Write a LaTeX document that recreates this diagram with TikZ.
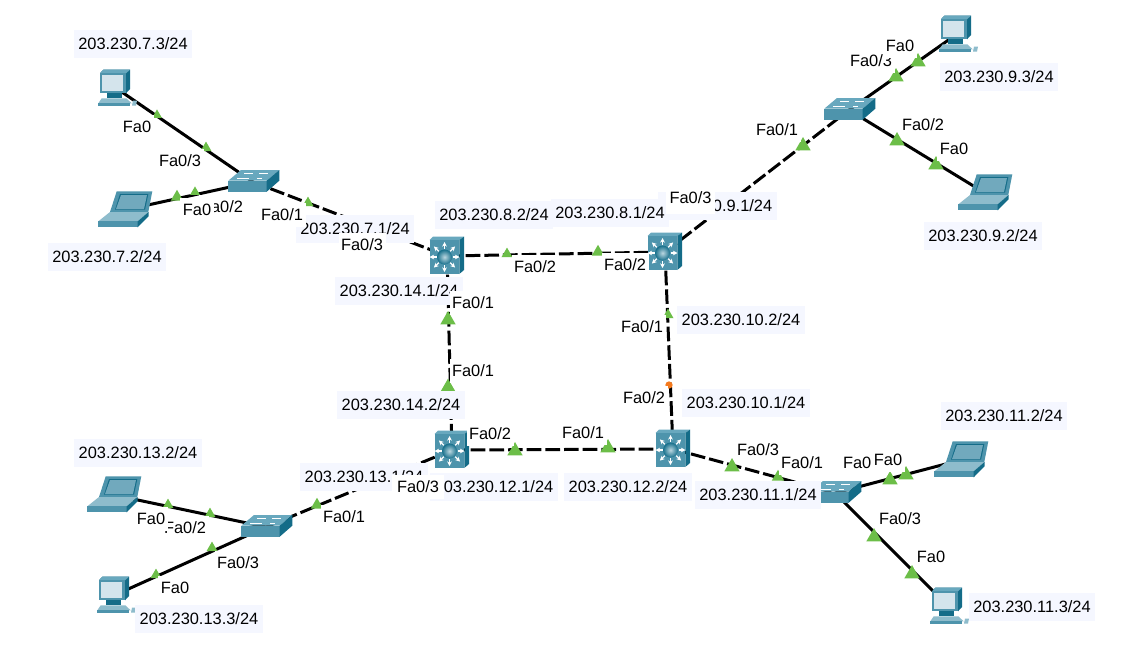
\documentclass[tikz,border=0pt]{standalone}
\usepackage{fontspec}
\setmainfont{Liberation Sans}
\usetikzlibrary{arrows.meta,shapes.geometric}
\definecolor{iconfront}{RGB}{78,148,172}
\definecolor{icontop}{RGB}{104,168,190}
\definecolor{iconside}{RGB}{20,108,136}
\definecolor{iconlight}{RGB}{142,188,204}
\definecolor{iconscreen}{RGB}{212,228,236}
\definecolor{iconball}{RGB}{24,112,140}
\definecolor{ipfill}{RGB}{245,247,255}
\definecolor{portgreen}{RGB}{108,190,72}
\definecolor{portorange}{RGB}{244,122,30}
\tikzset{
  link/.style={line width=2.25pt,black},
  dashlink/.style={link,dash pattern=on 11pt off 3pt},
  iplabel/.style={fill=ipfill,inner xsep=3.4pt,inner ysep=0pt,minimum height=20.6pt,font=\fontsize{12.3}{14}\selectfont},
  falabel/.style={fill=white,inner xsep=1.9pt,inner ysep=0pt,minimum height=18pt,font=\fontsize{12.3}{14}\selectfont},
  porttri/.style={regular polygon,regular polygon sides=3,fill=portgreen,inner sep=0pt},
  pcicon/.pic={
    \fill[iconside] (10,-14.7) -- (-16,-14.7) -- (-12.7,-18.3) -- (14,-18.3) -- (14,1) -- (10,5.3) -- cycle;
    \fill[icontop] (-16,-14.7) -- (-12.7,-18.3) -- (14,-18.3) -- (10,-14.7) -- cycle;
    \fill[iconfront] (-16,-14.7) rectangle (10,5.3);
    \fill[iconscreen] (-13.7,-13) rectangle (7.3,3);
    \fill[iconside] (-9,5.3) rectangle (6,10);
    \fill[iconlight] (-14.3,10.3) -- (10.3,10.3) -- (15.7,15.3) -- (-17.7,15.3) -- cycle;
    \fill[iconfront] (-17.7,15.3) rectangle (14,17.7);
    \fill[iconlight] (17,12.5) -- (21,12.5) -- (20,17.7) -- (16,17.7) -- cycle;
  },
  laptopicon/.pic={
    \fill[iconfront] (-8.3,-18.7) -- (27.3,-18.7) -- (23.3,2) -- (-15,2) -- cycle;
    \fill[iconside] (-5,-16) -- (23.3,-16) -- (20,-0.3) -- (-10,-0.3) -- cycle;
    \fill[iconfront!80!white] (-4,-15) -- (22,-15) -- (19,-1) -- (-9,-1) -- cycle;
    \fill[iconlight] (-15,2) -- (23.5,2) -- (12.7,11.3) -- (-26.7,11.3) -- cycle;
    \fill[iconfront] (-26.7,11.3) rectangle (12.7,17.3);
    \fill[iconside] (12.7,11.3) -- (23.5,2) -- (23.5,6.3) -- (12.7,17.3) -- cycle;
  },
  swicon/.pic={
    \fill[icontop] (-24.7,-1.3) -- (-12,-12) -- (26.3,-12) -- (13.7,-1.3) -- cycle;
    \fill[iconfront] (-24.7,-1.3) rectangle (13.7,9.7);
    \fill[iconside] (13.7,-1.3) -- (26.3,-12) -- (26.3,-1.3) -- (13.7,9.7) -- cycle;
    \draw[white,line width=0.6pt] (-9,-9) -- (0,-9) (6,-9) -- (15,-9) (-16,-4) -- (-4,-4) (4,-4) -- (9,-4);
  },
  routericon/.pic={
    \fill[icontop] (-17.3,-16) -- (-14,-19.3) -- (17,-19.3) -- (12.3,-16) -- cycle;
    \fill[iconside] (12.3,-16) -- (17,-19.3) -- (17,14) -- (12.3,18) -- cycle;
    \fill[iconfront] (-17.3,-16) rectangle (12.3,18);
    \foreach \a in {0,45,...,315}
      \draw[white,line width=0.9pt,-{Stealth[length=3.5pt,width=3.5pt]}] (-2.5,1)++(\a:8) -- ++(\a:7);
    \shade[inner color=iconlight!60!white,outer color=iconball] (-2.5,1) circle (7.5);
  }
}
\begin{document}
\begin{tikzpicture}[x=0.75pt,y=-0.75pt]
  \useasboundingbox[fill=white] (0,0) rectangle (1121,647);
  % devices
  \foreach \n/\x/\y in {pcA/116/88,lapA/125/210,swA/253/182,rtA/447/256,rtB/665/252,rtC/452/450,rtD/673/449,
    swB/849/110,pcB/957/34,lapB/985/193,swC/266/527,lapC/114/495,pcC/115/595,swD/835/493,lapD/961/460,pcD/948/606}
    \coordinate (\n) at (\x,\y);
  % links
  \foreach \a/\b in {pcA/swA,lapA/swA,swB/pcB,swB/lapB,swC/lapC,swC/pcC,swD/lapD,swD/pcD}
    \draw[link] (\a) -- (\b);
  \foreach \a/\b in {swA/rtA,rtA/rtB,rtB/swB,rtA/rtC,rtB/rtD,rtC/rtD,rtC/swC,rtD/swD}
    \draw[dashlink] (\a) -- (\b);
  % port lights
  \foreach \i/\x/\y/\s in {1/157/115/8.4,2/206/148/9.6,3/177/197/10.8,4/195/192/8.4,5/308/203/9.6,6/507/254/9.6,7/598/252/10.8,
    8/803/146/13.4,9/896/77/13.4,10/918/62/13.4,11/897/141/13.4,12/936/165/13.4,13/448/320/13.4,14/448/387/12.5,
    15/668/315/9.6,16/515/451/13.4,17/608/448/13.4,18/732/467/13.4,19/778/477/10.8,20/890/480/13.4,21/906/475/13.4,
    22/874/537/13.4,23/912/574/13.4,24/317/505/10.8,25/168/505/9.6,26/210/514/9.6,27/212/548/9.6,28/156/575/9.6}
    \node[porttri,minimum size=\s pt] (t\i) at (\x,\y) {};
  \node[circle,fill=portorange,inner sep=0pt,minimum size=5.5pt] (t29) at (669,385) {};
  % icons
  \foreach \n in {pcA,pcB,pcC,pcD} \pic at (\n) {pcicon};
  \foreach \n in {lapA,lapB,lapC,lapD} \pic at (\n) {laptopicon};
  \foreach \n in {swA,swB,swC,swD} \pic at (\n) {swicon};
  \foreach \n in {rtA,rtB,rtC,rtD} \pic at (\n) {routericon};
  % addresses
  \foreach \i/\t/\x/\y in {6/9.1/717.5/206,1/7.3/133/44,2/7.2/107/257,3/7.1/355/229,4/8.2/494/215,5/8.1/610/213,
    7/9.3/999/77,8/9.2/983/236,9/14.1/399/291,10/14.2/401/405,11/10.2/741/320,12/10.1/746/403,13/13.1/364/477,
    14/12.1/494/487,15/12.2/628/487,16/13.2/138/453,17/13.3/199/619,18/11.1/758/495,19/11.2/1004/416,20/11.3/1032/607}
    \node[iplabel] (ip\i) at (\x,\y) {203.230.\t/24};
  % ports
  \foreach \i/\t/\x/\y in {1/0/137/127,2/0\slash 3/180/161,3/0\slash 2/222/207,4/0/197/210,5/0\slash 1/282/215,6/0\slash 3/362/245,
    7/0\slash 2/535/267,8/0\slash 2/625/265,10/0\slash 1/777/130,11/0\slash 3/871/61,12/0/900/46,
    13/0\slash 2/923/125,14/0/954/149,15/0\slash 1/473/303,16/0\slash 1/473/371,17/0\slash 1/642/327,18/0\slash 2/644/398,
    19/0\slash 2/490/434,20/0\slash 1/583/433,22/0\slash 3/758/450,23/0\slash 1/802/463,
    24/0\slash 2/864/463,25/0/888/460,26/0\slash 3/900/519,27/0/931/557,28/0\slash 1/344/517,29/0\slash 2/185/528,
    30/0/151/519,31/0\slash 3/238/563,32/0/175/588}
    \node[falabel] (fa\i) at (\x,\y) {Fa\t};
  \node[falabel,anchor=base,text height=9pt,text depth=6pt,inner xsep=2.6pt,inner ysep=1.5pt,minimum height=0pt] (fa9) at (690.5,203.5) {Fa0/3};
  \node[falabel,inner xsep=4pt] (fa21) at (418,487) {Fa0/3};
\end{tikzpicture}
\end{document}
